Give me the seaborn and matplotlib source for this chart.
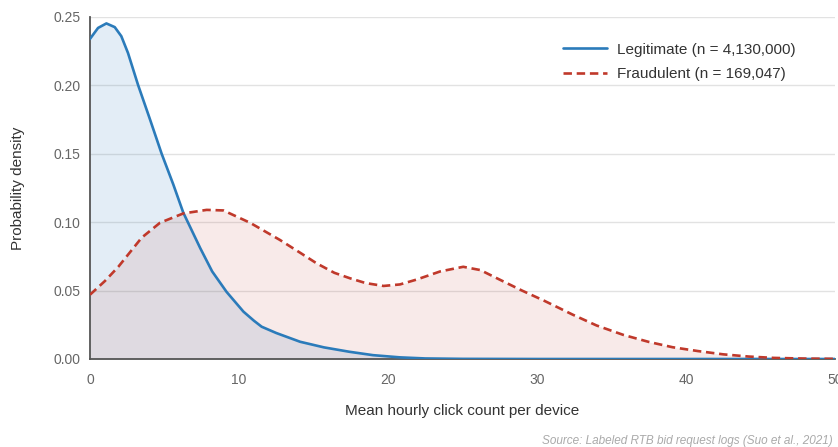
import numpy as np
import pandas as pd
import matplotlib
matplotlib.use("Agg")
import matplotlib.pyplot as plt
import seaborn as sns

# ── data ──
legit_x = [0, 0.54, 1.1, 1.66, 2.1, 2.55, 3.22, 4.0, 4.81, 5.59, 6.26, 7.4, 8.2,
           9.17, 10.3, 11.0, 11.52, 12.5, 14.1, 15.7, 17.4, 19.0, 20.8, 22.5,
           25.0, 30.0, 40.0, 50.0]
legit_y = [0.234, 0.242, 0.2453, 0.2426, 0.236, 0.2237, 0.2005, 0.176, 0.150,
           0.1276, 0.107, 0.081, 0.064, 0.049, 0.0346, 0.028, 0.0236, 0.019,
           0.0126, 0.0085, 0.0053, 0.0028, 0.0012, 0.0004, 0.0001, 0.0, 0.0, 0.0]

fraud_x = [0, 1.0, 1.9, 3.47, 4.7, 6.26, 7.83, 8.95, 10.74, 12.75, 14.1, 15.2,
           16.4, 17.45, 18.5, 19.7, 20.8, 21.9, 23.5, 25.05, 26.2, 27.5, 29.0,
           30.5, 32.4, 34.0, 35.8, 37.5, 39.1, 40.8, 42.5, 44.2, 45.9, 48.0, 50.0]
fraud_y = [0.047, 0.057, 0.0674, 0.0887, 0.0996, 0.1064, 0.109, 0.1086, 0.0996,
           0.087, 0.0777, 0.070, 0.063, 0.059, 0.0555, 0.0534, 0.0545, 0.058,
           0.064, 0.0674, 0.065, 0.058, 0.050, 0.0425, 0.0324, 0.0245, 0.0176,
           0.0125, 0.0086, 0.0058, 0.0034, 0.0018, 0.0008, 0.0003, 0.0001]

legit_label = "Legitimate (n = 4,130,000)"
fraud_label = "Fraudulent (n = 169,047)"

blue = "#2b7bba"
red = "#c0392b"

sns.set_style("white")
plt.rcParams["font.family"] = ["Liberation Sans", "DejaVu Sans"]

df = pd.concat([
    pd.DataFrame({"x": legit_x, "y": legit_y, "group": legit_label}),
    pd.DataFrame({"x": fraud_x, "y": fraud_y, "group": fraud_label}),
])

fig = plt.figure(figsize=(8.38, 4.47), dpi=100)
ax = fig.add_axes([90 / 838, 1 - 359 / 447, 745 / 838, 342 / 447])

ax.fill_between(legit_x, legit_y, color=blue, alpha=0.13, linewidth=0, zorder=1)
ax.fill_between(fraud_x, fraud_y, color=red, alpha=0.10, linewidth=0, zorder=1)

sns.lineplot(data=df, x="x", y="y", hue="group", style="group",
             palette={legit_label: blue, fraud_label: red},
             dashes={legit_label: "", fraud_label: (3.2, 1.8)},
             linewidth=1.9, ax=ax, zorder=3)

ax.set_xlim(0, 50)
ax.set_ylim(0, 0.25)
ax.set_xticks([0, 10, 20, 30, 40, 50])
ax.set_yticks([0, 0.05, 0.10, 0.15, 0.20, 0.25])
ax.set_yticklabels([f"{v:.2f}" for v in ax.get_yticks()])
ax.yaxis.grid(True, color="#e2e2e2", linewidth=1)
ax.xaxis.grid(False)
ax.set_axisbelow(True)
ax.tick_params(axis="both", length=0, labelsize=10, colors="#666666")
ax.tick_params(axis="y", pad=7)
ax.tick_params(axis="x", pad=10)

for side in ["top", "right"]:
    ax.spines[side].set_visible(False)
for side in ["left", "bottom"]:
    ax.spines[side].set_color("#555555")
    ax.spines[side].set_linewidth(1.3)

ax.set_xlabel("Mean hourly click count per device", fontsize=11, color="#333333", labelpad=12)
ax.set_ylabel("Probability density", fontsize=11, color="#333333", labelpad=20)

leg = ax.legend(loc="upper right", bbox_to_anchor=(809 / 838, 1 - 29 / 447),
                bbox_transform=fig.transFigure, frameon=False, fontsize=11,
                handlelength=2.9, handletextpad=0.6, labelspacing=0.68, title=None)
for t in leg.get_texts():
    t.set_color("#333333")

fig.text(833 / 838, 1 - 441 / 447, "Source: Labeled RTB bid request logs (Suo et al., 2021)",
         ha="right", va="center", fontsize=8.5, style="italic", color="#aaaaaa")

fig.savefig("out.png", dpi=100)
